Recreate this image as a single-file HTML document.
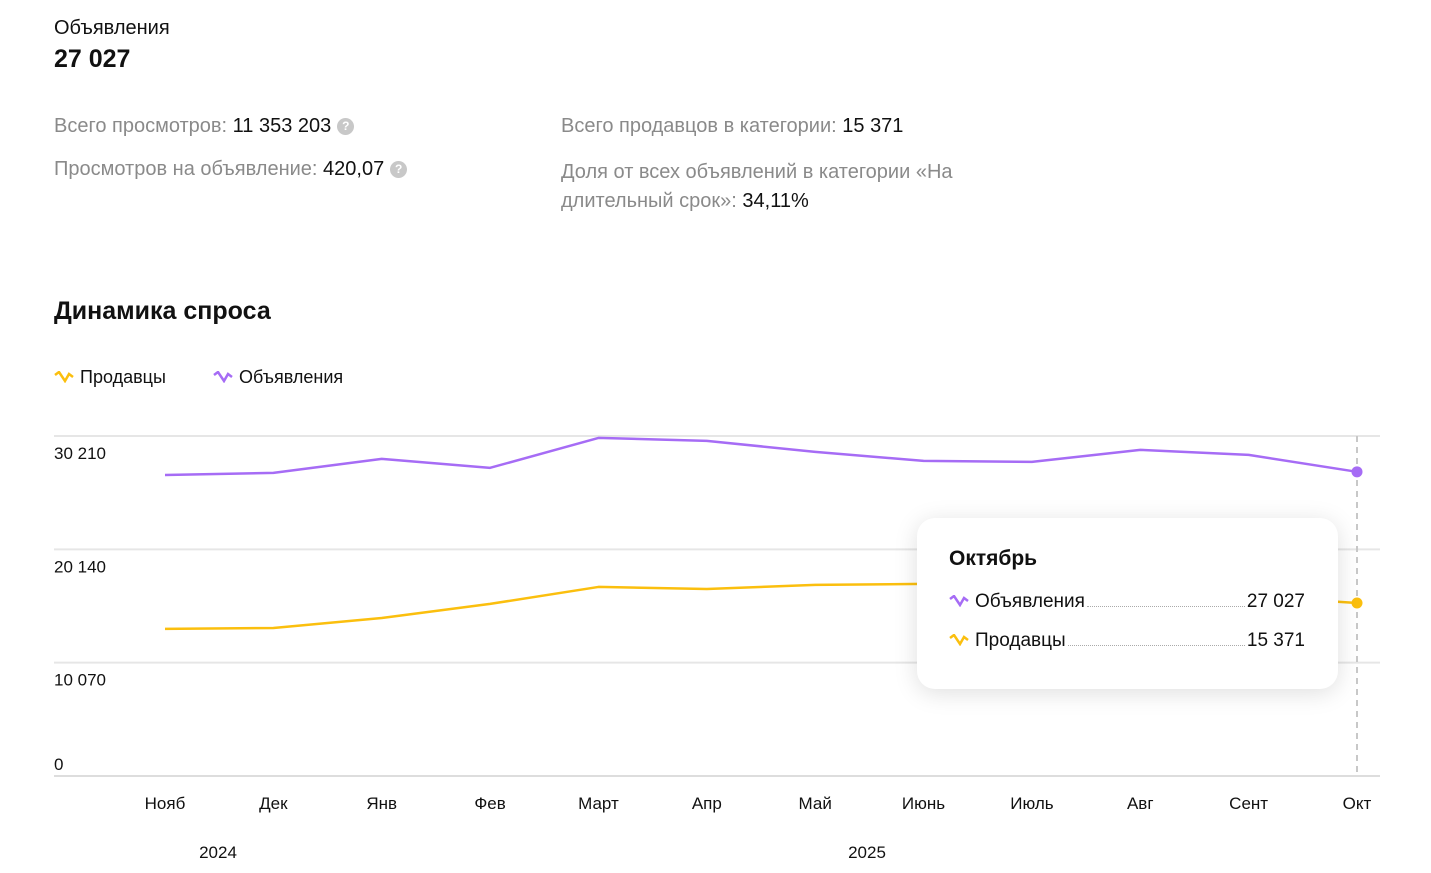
<!DOCTYPE html>
<html><head><meta charset="utf-8">
<style>
body{margin:0;width:1431px;height:873px;background:#fff;font-family:"Liberation Sans","Noto Sans CJK SC",sans-serif;color:#111;position:relative;overflow:hidden}
.a{position:absolute;white-space:nowrap}
.g{color:#8a8a8a}
.q{display:inline-block;width:17px;height:17px;border-radius:50%;background:#c8c8c8;color:#fff;font-size:12px;font-weight:bold;text-align:center;line-height:17px;vertical-align:2px;margin-left:6px}
</style></head><body>
<div class="a" style="left:54px;top:17px;font-size:20px">Объявления</div>
<div class="a" style="left:54px;top:45px;font-size:25px;font-weight:bold">27 027</div>
<div class="a" style="left:54px;top:115px;font-size:20px"><span class="g">Всего просмотров:</span> 11 353 203<span class="q">?</span></div>
<div class="a" style="left:54px;top:158px;font-size:20px"><span class="g">Просмотров на объявление:</span> 420,07<span class="q">?</span></div>
<div class="a" style="left:561px;top:115px;font-size:20px"><span class="g">Всего продавцов в категории:</span> 15 371</div>
<div class="a" style="left:561px;top:158px;font-size:20px;line-height:29px"><span class="g">Доля от всех объявлений в категории «На<br>длительный срок»:</span> 34,11%</div>
<div class="a" style="left:54px;top:297px;font-size:25px;font-weight:bold">Динамика спроса</div>
<div class="a" style="left:54px;top:367px;font-size:18px"><svg width="20" height="12" style="margin-right:6px"><polyline points="1,4 5,1 11,10 15,3 19,6" fill="none" stroke="#fbbf0e" stroke-width="2.5"/></svg>Продавцы</div>
<div class="a" style="left:213px;top:367px;font-size:18px"><svg width="20" height="12" style="margin-right:6px"><polyline points="1,4 5,1 11,10 15,3 19,6" fill="none" stroke="#a66cf5" stroke-width="2.5"/></svg>Объявления</div>
<svg id="chart" class="a" style="left:0;top:0" width="1431" height="873"></svg>
<div class="a" style="left:917px;top:518px;width:421px;height:171px;background:#fff;border-radius:18px;box-shadow:0 4px 24px rgba(0,0,0,0.13)">
 <div class="a" style="left:32px;top:29px;font-size:21px;font-weight:bold">Октябрь</div>
 <div class="a" style="left:32px;top:73px;width:356px;font-size:19px;display:flex;align-items:baseline"><svg width="20" height="12" style="margin-right:6px"><polyline points="1,4 5,1 11,10 15,3 19,6" fill="none" stroke="#a66cf5" stroke-width="2.5"/></svg>Объявления<span style="flex:1;border-bottom:1px dotted #aaa;margin:0 2px"></span>27 027</div>
 <div class="a" style="left:32px;top:112px;width:356px;font-size:19px;display:flex;align-items:baseline"><svg width="20" height="12" style="margin-right:6px"><polyline points="1,4 5,1 11,10 15,3 19,6" fill="none" stroke="#fbbf0e" stroke-width="2.5"/></svg>Продавцы<span style="flex:1;border-bottom:1px dotted #aaa;margin:0 2px"></span>15 371</div>
</div>
<script>
const months=["Нояб","Дек","Янв","Фев","Март","Апр","Май","Июнь","Июль","Авг","Сент","Окт"];
const listings=[26750,26930,28180,27380,30040,29780,28800,28000,27910,28980,28530,27027];
const sellers=[13070,13150,14040,15290,16800,16620,16980,17070,17000,16800,16000,15371];
const yTicks=[0,10070,20140,30210];
const yTickLabels=["0","10 070","20 140","30 210"];
const years=[{label:"2024",x:218},{label:"2025",x:867}];
const svg=document.getElementById('chart');
const NS="http://www.w3.org/2000/svg";
const X0=165,X1=1357,Y0=776,Y1=436;
const xs=i=>X0+(X1-X0)*i/(months.length-1);
const ys=v=>Y0-(Y0-Y1)*v/30210;
function mk(t,a){const e=document.createElementNS(NS,t);for(const k in a)e.setAttribute(k,a[k]);svg.appendChild(e);return e;}
yTicks.forEach((v,i)=>{
 const l=mk('line',{x1:54,x2:1380,y1:ys(v),y2:ys(v),stroke:i==0?'#ddd':'#e6e6e6','stroke-width':2});
 
 
 const t=mk('text',{x:54,y:ys(v)+(i==0?-6:23),'font-size':17,fill:'#111'});
 t.textContent=yTickLabels[i];
 
 
});
months.forEach((m,i)=>{
 const t=mk('text',{x:xs(i),y:809,'font-size':17,'text-anchor':'middle',fill:'#111'});
 t.textContent=m;
 
 
});
years.forEach(y=>{
 const t=mk('text',{x:y.x,y:858,'font-size':17,'text-anchor':'middle',fill:'#111'});
 t.textContent=y.label;
 
 
});
const last=months.length-1;
const hl=mk('line',{x1:xs(last),x2:xs(last),y1:436,y2:776,stroke:'#c8c8c8','stroke-width':2,'stroke-dasharray':'6,5'});


function series(d,c,n){
 const p=mk('polyline',{points:d.map((v,i)=>xs(i)+','+ys(v)).join(' '),fill:'none',stroke:c,'stroke-width':2.5,'stroke-linejoin':'round'});
 
 
 const dot=mk('circle',{cx:xs(last),cy:ys(d[last]),r:5.5,fill:c});
 
 
}
series(listings,'#a66cf5','listings');
series(sellers,'#fbbf0e','sellers');
</script>
</body></html>
